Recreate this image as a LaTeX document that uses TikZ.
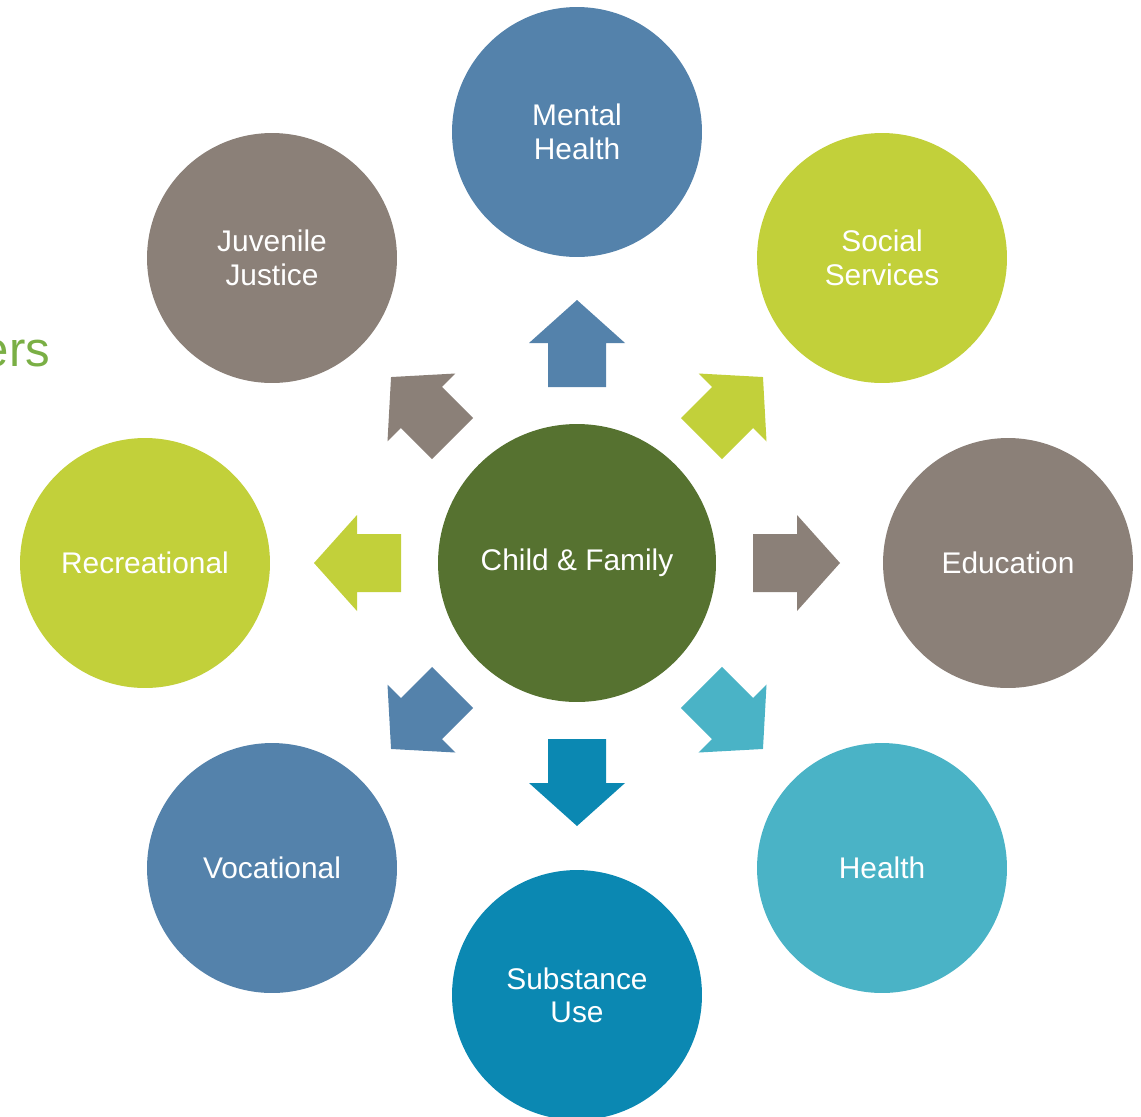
\documentclass[tikz,border=0pt]{standalone}
\usepackage{fontspec}
\setmainfont{Liberation Sans}
\usepackage{tikz}

\definecolor{mhblue}{RGB}{84,130,171}
\definecolor{lime}{RGB}{194,208,58}
\definecolor{taupe}{RGB}{139,128,120}
\definecolor{aqua}{RGB}{74,179,198}
\definecolor{teal}{RGB}{11,136,178}
\definecolor{moss}{RGB}{86,114,48}
\definecolor{leaf}{RGB}{122,175,69}

\begin{document}
\begin{tikzpicture}[x=0.02cm, y=-0.02cm, outer sep=0pt]

\tikzstyle{sector}=[circle, minimum size=5cm, inner sep=0pt, text=white, align=center, font=\fontsize{17}{19}\selectfont]
\tikzstyle{hub}=[sector, minimum size=5.56cm]

\useasboundingbox (0,0) rectangle (1141,1116);

\node[anchor=base east, text=leaf, inner sep=0pt, font=\fontsize{28}{32}\selectfont] (title) at (50,366) {ers};

\node[hub, fill=moss] (cf) at (577,563) {Child \& Family};

\node[sector, fill=mhblue] (mh) at (577,132) {Mental\\Health};
\node[sector, fill=lime] (ss) at (882,258) {Social\\Services};
\node[sector, fill=taupe] (ed) at (1008,563) {Education};
\node[sector, fill=aqua] (he) at (882,868) {Health};
\node[sector, fill=teal] (su) at (577,995) {Substance\\Use};
\node[sector, fill=mhblue] (vo) at (272,868) {Vocational};
\node[sector, fill=lime] (re) at (145,563) {Recreational};
\node[sector, fill=taupe] (jj) at (272,258) {Juvenile\\Justice};

% block arrows from the hub
\foreach \ang/\col in {90/mhblue, 45/lime, 0/taupe, -45/aqua, -90/teal, -135/mhblue, 180/lime, 135/taupe}
{
  \begin{scope}[shift={(cf.center)}, rotate=\ang]
    \fill[\col] (176,-29) -- (220,-29) -- (220,-48) -- (263,0) -- (220,48) -- (220,29) -- (176,29) -- cycle;
  \end{scope}
}

\end{tikzpicture}
\end{document}
